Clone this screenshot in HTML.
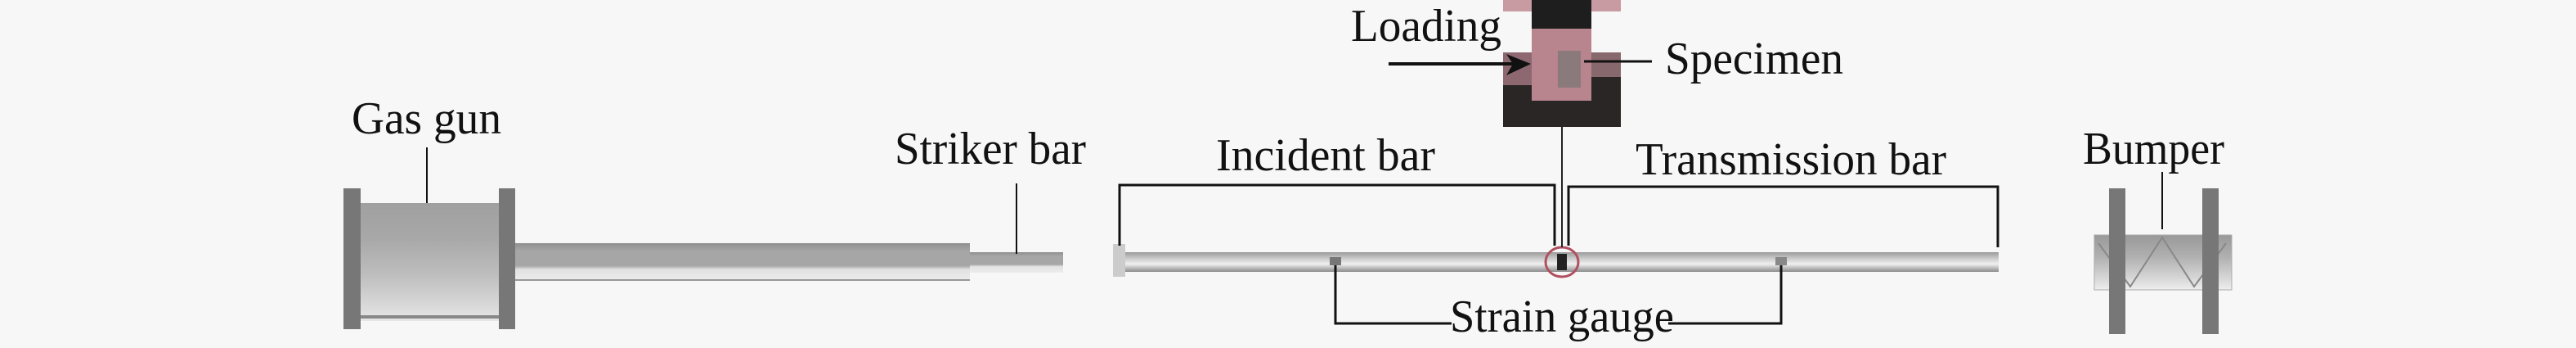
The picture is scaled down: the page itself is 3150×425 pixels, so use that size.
<!DOCTYPE html>
<html><head><meta charset="utf-8"><style>
html,body{margin:0;padding:0;background:#f7f7f7;}
svg{display:block;}
text{font-family:"Liberation Serif",serif;font-size:56px;fill:#111;}
</style></head><body>
<svg width="3150" height="425" viewBox="0 0 3150 425" xmlns="http://www.w3.org/2000/svg">
<defs>
<linearGradient id="gun" x1="0" y1="0" x2="0" y2="1">
<stop offset="0" stop-color="#a0a0a0"/><stop offset="0.3" stop-color="#a8a8a8"/><stop offset="0.6" stop-color="#bdbdbd"/><stop offset="1" stop-color="#e6e6e6"/></linearGradient>
<linearGradient id="tube" x1="0" y1="0" x2="0" y2="1">
<stop offset="0" stop-color="#8f8f8f"/><stop offset="0.2" stop-color="#a6a6a6"/><stop offset="0.6" stop-color="#a6a6a6"/><stop offset="0.7" stop-color="#e2e2e2"/><stop offset="1" stop-color="#ececec"/></linearGradient>
<linearGradient id="bar" x1="0" y1="0" x2="0" y2="1">
<stop offset="0" stop-color="#9a9a9a"/><stop offset="0.3" stop-color="#c8c8c8"/><stop offset="0.6" stop-color="#f0f0f0"/><stop offset="1" stop-color="#8a8a8a"/></linearGradient>
<linearGradient id="bump" x1="0" y1="0" x2="0" y2="1">
<stop offset="0" stop-color="#999"/><stop offset="0.4" stop-color="#b0b0b0"/><stop offset="0.8" stop-color="#d8d8d8"/><stop offset="1" stop-color="#eee"/></linearGradient>
</defs>
<!-- Gas gun -->
<rect x="441" y="248" width="169" height="144" fill="url(#gun)"/>
<rect x="441" y="385" width="169" height="4" fill="#888"/>
<rect x="420" y="230" width="21" height="172" fill="#777"/>
<rect x="610" y="230" width="20" height="172" fill="#777"/>
<rect x="630" y="297" width="556" height="46" fill="url(#tube)"/>
<rect x="630" y="341" width="556" height="2" fill="#999"/>
<rect x="1186" y="308" width="114" height="25" fill="url(#tube)"/>
<text x="430" y="163" textLength="183" lengthAdjust="spacingAndGlyphs">Gas gun</text>
<line x1="522" y1="180" x2="522" y2="248" stroke="#111" stroke-width="2"/>
<text x="1094" y="200" textLength="234" lengthAdjust="spacingAndGlyphs">Striker bar</text>
<line x1="1243" y1="224" x2="1243" y2="310" stroke="#111" stroke-width="2"/>
<!-- Bars -->
<rect x="1375" y="308" width="1069" height="24" fill="url(#bar)"/>
<rect x="1361" y="298" width="15" height="40" fill="#ccc"/>
<rect x="1626" y="314" width="14" height="10" fill="#777"/>
<rect x="2171" y="314" width="14" height="10" fill="#888"/>
<ellipse cx="1910" cy="320" rx="20" ry="18" fill="none" stroke="#b05060" stroke-width="3"/>
<rect x="1904" y="310" width="12" height="20" fill="#222"/>
<polyline points="1369,300 1369,226 1901,226 1901,300" fill="none" stroke="#111" stroke-width="3"/>
<polyline points="1918,300 1918,228 2443,228 2443,302" fill="none" stroke="#111" stroke-width="3"/>
<line x1="1910" y1="155" x2="1910" y2="302" stroke="#222" stroke-width="2"/>
<text x="1487" y="208" textLength="268" lengthAdjust="spacingAndGlyphs">Incident bar</text>
<text x="2000" y="213" textLength="380" lengthAdjust="spacingAndGlyphs">Transmission bar</text>
<polyline points="1633,324 1633,395 1775,395" fill="none" stroke="#111" stroke-width="3"/>
<polyline points="2040,395 2178,395 2178,324" fill="none" stroke="#111" stroke-width="3"/>
<text x="1773" y="405" textLength="274" lengthAdjust="spacingAndGlyphs">Strain gauge</text>
<!-- Photo -->
<rect x="1838" y="0" width="144" height="155" fill="#2a2626"/>
<rect x="1838" y="0" width="144" height="14" fill="#c89aa2"/>
<rect x="1838" y="14" width="35" height="50" fill="#f7f7f7"/>
<rect x="1946" y="14" width="36" height="50" fill="#f7f7f7"/>
<rect x="1873" y="0" width="73" height="35" fill="#1e1e1e"/>
<rect x="1873" y="35" width="73" height="88" fill="#b8848e"/>
<rect x="1838" y="64" width="35" height="40" fill="#8e6870"/>
<rect x="1946" y="64" width="36" height="30" fill="#86686d"/>
<rect x="1905" y="62" width="28" height="45" fill="#8a7a7c"/>
<text x="1652" y="50" textLength="184" lengthAdjust="spacingAndGlyphs">Loading</text>
<line x1="1698" y1="78" x2="1850" y2="78" stroke="#111" stroke-width="4"/>
<polygon points="1872,78 1842,66 1850,78 1842,92" fill="#111"/>
<line x1="1937" y1="75" x2="2020" y2="75" stroke="#111" stroke-width="3"/>
<text x="2036" y="90" textLength="218" lengthAdjust="spacingAndGlyphs">Specimen</text>
<!-- Bumper -->
<rect x="2561" y="287" width="168" height="67" fill="url(#bump)" stroke="#aaa" stroke-width="1"/>
<polyline points="2566,297 2605,350 2644,290 2683,350 2722,297" fill="none" stroke="#888" stroke-width="2"/>
<rect x="2579" y="230" width="20" height="178" fill="#777"/>
<rect x="2693" y="230" width="20" height="178" fill="#777"/>
<text x="2547" y="200" textLength="173" lengthAdjust="spacingAndGlyphs">Bumper</text>
<line x1="2644" y1="210" x2="2644" y2="280" stroke="#111" stroke-width="2"/>
</svg>
</body></html>
